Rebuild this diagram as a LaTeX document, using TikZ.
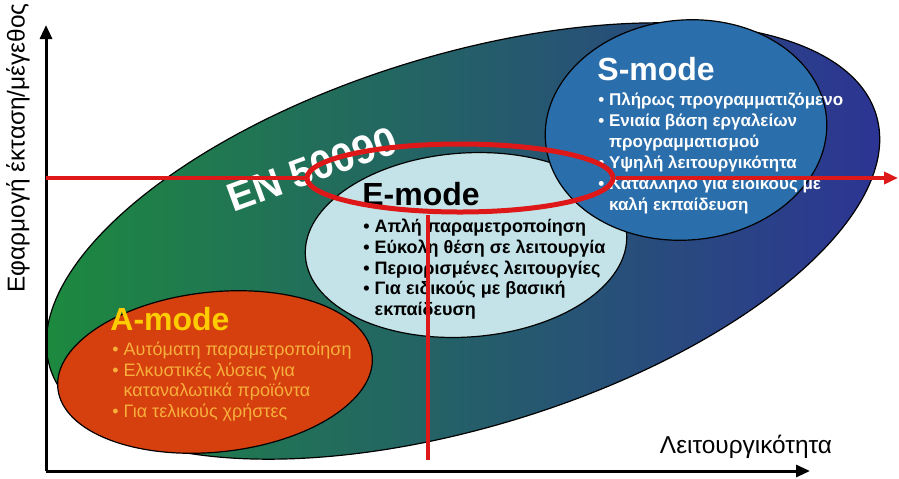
\documentclass[tikz,border=0pt]{standalone}
\usepackage{fontspec}
\setmainfont{Liberation Sans}
\usepackage{tikz}
\usetikzlibrary{shapes.geometric, arrows.meta}
\definecolor{engreen}{RGB}{28,140,60}
\definecolor{enteal}{RGB}{35,115,115}
\definecolor{enblue}{RGB}{45,50,150}
\definecolor{amodered}{RGB}{213,64,14}
\definecolor{amodeyellow}{RGB}{255,204,0}
\definecolor{amodetext}{RGB}{247,175,60}
\definecolor{emodecyan}{RGB}{195,227,232}
\definecolor{smodeblue}{RGB}{42,110,172}
\definecolor{focusred}{RGB}{222,24,24}
\newcommand{\bul}{\textbullet\ }
\newcommand{\ind}{\phantom{\textbullet\ }}

\begin{document}
\begin{tikzpicture}[x=0.5pt, y=-0.5pt,
	every node/.append style={inner sep=0pt},
	zone/.style={ellipse, draw=black, line width=0.6pt},
	title/.style={anchor=base west, font={\fontsize{16}{18}\selectfont\bfseries}},
	items/.style={anchor=north west, align=left, font={\fontsize{9}{10.2}\selectfont}},
	axislabel/.style={font={\fontsize{12.2}{14}\selectfont}},
	axis/.style={line width=1.5pt, -{Triangle[length=7pt, width=6pt]}},
	focus/.style={draw=focusred, line width=1.8pt}]

	\useasboundingbox (0,0) rectangle (899,478);

	% zones
	\node[zone, minimum width=432pt, minimum height=186pt, rotate=17, left color=engreen, middle color=enteal, right color=enblue] (en) at (463,241) {};
	\node[zone, minimum width=158pt, minimum height=80pt, rotate=6, fill=amodered] (amode) at (215,372) {};
	\node[zone, minimum width=161pt, minimum height=92pt, rotate=4, fill=emodecyan] (emode) at (466,245) {};
	\node[zone, minimum width=141pt, minimum height=110pt, rotate=5, fill=smodeblue] (smode) at (686,130) {};

	\node[rotate=20, text=white, font={\fontsize{20}{22}\selectfont\bfseries}] (enlabel) at (312,169) {EN 50090};

	% texts
	\node[title, text=amodeyellow] (atitle) at (110,330) {A-mode};
	\node[items, text=amodetext] (aitems) at (112,342) {\bul Αυτόματη παραμετροποίηση\\ \bul Ελκυστικές λύσεις για\\ \ind καταναλωτικά προϊόντα\\ \bul Για τελικούς χρήστες};

	\node[title, text=black] (etitle) at (362,205) {E-mode};
	\node[items, text=black, font={\fontsize{9}{10.3}\selectfont\bfseries}] (eitems) at (363,219) {\bul Απλή παραμετροποίηση\\ \bul Εύκολη θέση σε λειτουργία\\ \bul Περιορισμένες λειτουργίες\\ \bul Για ειδικούς με βασική\\ \ind εκπαίδευση};

	\node[title, text=white] (stitle) at (597,80) {S-mode};
	\node[items, text=white, font={\fontsize{8.5}{10.5}\selectfont\bfseries}] (sitems) at (598,92) {\bul Πλήρως προγραμματιζόμενο\\ \bul Ενιαία βάση εργαλείων\\ \ind προγραμματισμού\\ \bul Υψηλή λειτουργικότητα\\ \bul Κατάλληλο για ειδικούς με\\ \ind καλή εκπαίδευση};

	% axes
	\coordinate (origin) at (46,471);
	\coordinate (ytip) at (46,25);
	\coordinate (xtip) at (810,471);
	\draw[axis] (origin) -- (ytip);
	\draw[axis] (origin) -- (xtip);
	\node[axislabel, rotate=90] (ylabel) at (18,148) {Εφαρμογή έκταση/μέγεθος};
	\node[axislabel] (xlabel) at (746,447) {Λειτουργικότητα};

	% red cross
	\node[focus, ellipse, line width=2.5pt, minimum width=153pt, minimum height=34pt] (target) at (460,178) {};
	\coordinate (yhit) at (46,178);
	\coordinate (rtip) at (898,178);
	\coordinate (vend) at (428,460);
	\draw[focus] (yhit) -- (target.west);
	\draw[focus, -{Triangle[length=7pt, width=6pt]}] (target.east) -- (rtip);
	\draw[focus] (vend) -- (vend |- target.south);
\end{tikzpicture}
\end{document}
